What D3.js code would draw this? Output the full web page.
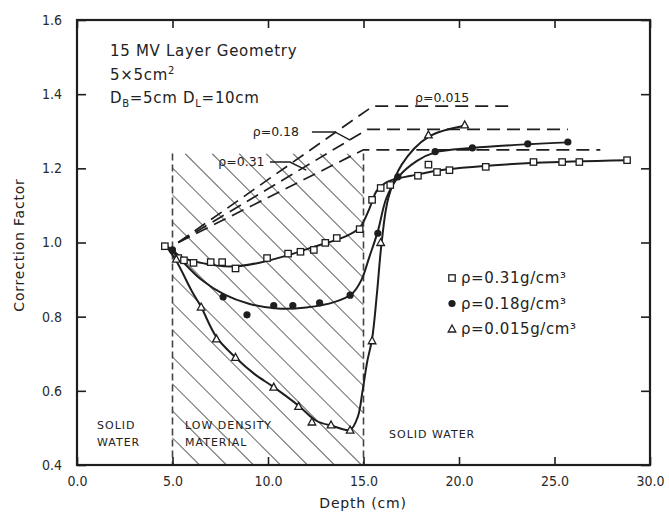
<!DOCTYPE html>
<html><head><meta charset="utf-8">
<script src="https://cdn.jsdelivr.net/npm/d3@7"></script>
<style>
body{margin:0;background:#fff;}
svg{display:block;font-family:"DejaVu Sans",sans-serif;}
</style></head>
<body><svg id="chart" width="669" height="516"></svg>
<script>
// ---------- data ----------
const xTicks = [0, 5, 10, 15, 20, 25, 30];
const yTicks = [0.4, 0.6, 0.8, 1.0, 1.2, 1.4, 1.6];
const seriesNames = ["ρ=0.31g/cm³", "ρ=0.18g/cm³", "ρ=0.015g/cm³"];

// measured points
const pts031 = [[4.6,0.99],[5.3,0.958],[5.6,0.952],[6.1,0.945],[7.0,0.947],[7.6,0.947],[8.3,0.93],[9.95,0.958],[11.05,0.97],[11.7,0.975],[12.4,0.98],[13.0,0.999],[13.6,1.012],[14.8,1.036],[15.45,1.115],[15.9,1.147],[16.4,1.155],[17.85,1.18],[18.4,1.21],[18.85,1.19],[19.5,1.195],[21.4,1.204],[23.9,1.217],[25.4,1.217],[26.3,1.217],[28.8,1.222]];
const pts018 = [[5.0,0.98],[7.65,0.853],[8.9,0.805],[10.3,0.83],[11.3,0.83],[12.7,0.837],[14.3,0.858],[15.75,1.025],[16.8,1.177],[18.75,1.245],[20.7,1.255],[23.6,1.266],[25.7,1.271]];
const pts015 = [[5.2,0.955],[6.5,0.826],[7.3,0.74],[8.3,0.69],[10.3,0.61],[11.6,0.558],[12.3,0.516],[13.3,0.508],[14.3,0.494],[15.45,0.735],[15.9,1.0],[18.4,1.29],[20.3,1.317]];

// fitted curves
const fit031 = [[4.6,0.995],[5.5,0.96],[6.5,0.945],[8,0.935],[9.5,0.945],[11,0.965],[12.5,0.99],[14,1.015],[14.8,1.04],[15.3,1.09],[15.7,1.14],[16.3,1.165],[17.5,1.18],[19,1.195],[21,1.205],[24,1.215],[28.8,1.222]];
const fit018 = [[4.6,0.995],[5.5,0.95],[6.5,0.9],[7.7,0.86],[9,0.835],[10.5,0.822],[12,0.825],[13.5,0.84],[14.4,0.862],[14.9,0.9],[15.3,0.96],[15.75,1.03],[16.2,1.12],[16.8,1.175],[17.8,1.22],[18.75,1.243],[20.7,1.255],[23.6,1.265],[25.7,1.27]];
const fit015 = [[4.6,0.995],[5.2,0.95],[6,0.87],[6.5,0.826],[7.3,0.745],[8.3,0.69],[9.3,0.645],[10.3,0.61],[11.6,0.56],[12.5,0.52],[13.4,0.505],[14.3,0.495],[14.7,0.53],[14.95,0.6],[15.2,0.68],[15.45,0.74],[15.7,0.86],[15.95,1.0],[16.3,1.12],[17,1.21],[18.4,1.285],[20.3,1.315]];

// calculated (dashed) lines
const calc015 = [[5.3,1.0],[15.5,1.368],[22.7,1.368]];
const calc018 = [[5.3,1.0],[15.2,1.305],[25.7,1.305]];
const calc031 = [[5.3,1.0],[15.0,1.25],[27.4,1.25]];

// layer boundaries (cm)
const layerEdges = [5, 15];
const layerTop = 1.24;

// ---------- drawing ----------
const svg = d3.select("#chart");
const x = d3.scaleLinear().domain([0, 30]).range([77, 650]);
const y = d3.scaleLinear().domain([0.4, 1.6]).range([465, 20]);
const ink = "#1e1e1e";

// hatch region
const defs = svg.append("defs");
defs.append("clipPath").attr("id","hclip").append("rect")
  .attr("x", x(layerEdges[0])).attr("y", y(layerTop))
  .attr("width", x(layerEdges[1]) - x(layerEdges[0]))
  .attr("height", y(0.4) - y(layerTop));
const hg = svg.append("g").attr("clip-path","url(#hclip)");
const hx0 = x(layerEdges[0]), hx1 = x(layerEdges[1]), hyt = y(layerTop), hyb = y(0.4);
for (let s = hx0 - (hyb - hyt); s < hx1 + 10; s += 27) {
  hg.append("line").attr("x1", s).attr("y1", hyt).attr("x2", s + (hyb - hyt)).attr("y2", hyb)
    .attr("stroke", "#7a7a7a").attr("stroke-width", 1.2);
}
// layer boundary dashed verticals
layerEdges.forEach(e => {
  svg.append("line").attr("x1", x(e)).attr("x2", x(e)).attr("y1", y(layerTop)).attr("y2", y(0.4))
    .attr("stroke", "#444").attr("stroke-width", 1.6).attr("stroke-dasharray", "7,4");
});

// axes
const axB = d3.axisBottom(x).tickValues(xTicks).tickSizeInner(-8).tickSizeOuter(0).tickPadding(11).tickFormat(d3.format(".1f"));
const axL = d3.axisLeft(y).tickValues(yTicks).tickSizeInner(-9).tickSizeOuter(0).tickPadding(15).tickFormat(d3.format(".1f"));
const axT = d3.axisTop(x).tickValues(xTicks).tickSizeInner(-8).tickSizeOuter(0).tickFormat("");
const axR = d3.axisRight(y).tickValues(yTicks).tickSizeInner(-9).tickSizeOuter(0).tickFormat("");
function styleAxis(g){
  g.select(".domain").remove();
  g.selectAll(".tick line").attr("stroke", ink).attr("stroke-width", 1.6);
  g.selectAll(".tick text").attr("fill", "#2a2a2a").style("font-size","14px").style("font-family","'DejaVu Sans Condensed','DejaVu Sans',sans-serif");
}
svg.append("g").attr("transform",`translate(0,${y(0.4)})`).call(axB).call(styleAxis);
svg.append("g").attr("transform",`translate(${x(0)},0)`).call(axL).call(styleAxis);
svg.append("g").attr("transform",`translate(0,${y(1.6)})`).call(axT).call(styleAxis);
svg.append("g").attr("transform",`translate(${x(30)},0)`).call(axR).call(styleAxis);
svg.append("rect").attr("x", x(0)).attr("y", y(1.6)).attr("width", x(30)-x(0)).attr("height", y(0.4)-y(1.6))
  .attr("fill","none").attr("stroke", ink).attr("stroke-width", 2.2);

// calculated dashed lines
const lin = d3.line().x(d => x(d[0])).y(d => y(d[1]));
[calc015, calc018, calc031].forEach(c => {
  svg.append("path").attr("d", lin(c)).attr("fill","none").attr("stroke", ink)
    .attr("stroke-width", 1.7).attr("stroke-dasharray", "13,7");
});

// fitted curves
const cur = d3.line().x(d => x(d[0])).y(d => y(d[1])).curve(d3.curveCatmullRom.alpha(0.5));
[fit031, fit018, fit015].forEach(c => {
  svg.append("path").attr("d", cur(c)).attr("fill","none").attr("stroke", ink).attr("stroke-width", 2);
});

// markers
function square(g, px, py){ g.append("rect").attr("x",px-3.2).attr("y",py-3.2).attr("width",6.4).attr("height",6.4).attr("fill","#fff").attr("stroke",ink).attr("stroke-width",1.3); }
function dot(g, px, py){ g.append("circle").attr("cx",px).attr("cy",py).attr("r",3.6).attr("fill",ink); }
function tri(g, px, py){ g.append("path").attr("d",`M${px},${py-4}L${px+3.8},${py+3}L${px-3.8},${py+3}Z`).attr("fill","#fff").attr("stroke",ink).attr("stroke-width",1.3); }
const mg = svg.append("g");
pts031.forEach(p => square(mg, x(p[0]), y(p[1])));
pts018.forEach(p => dot(mg, x(p[0]), y(p[1])));
pts015.forEach(p => tri(mg, x(p[0]), y(p[1])));

// legend
const markers = [square, dot, tri];
seriesNames.forEach((n, i) => {
  const ly = 278 + i * 25.5;
  markers[i](svg, 452, ly);
  svg.append("text").attr("x", 461).attr("y", ly).attr("dy","0.35em").text(n)
    .style("font-size","15px").style("letter-spacing","0.6px").attr("fill","#222");
});

// annotations for calculated lines
const ann = [
  {t:"ρ=0.015", d:17.7, v:1.39, lead:null},
  {t:"ρ=0.18", d:9.2, v:1.298, lead:[[12.3,1.298],[13.5,1.298],[14.3,1.276]]},
  {t:"ρ=0.31", d:7.4, v:1.217, lead:[[10.1,1.217],[11.15,1.217],[12.0,1.195]]}
];
ann.forEach(a => {
  svg.append("text").attr("x", x(a.d)).attr("y", y(a.v)).attr("dy","0.35em").text(a.t)
    .style("font-size","12.5px").attr("fill","#222");
  if (a.lead) svg.append("path").attr("d", lin(a.lead)).attr("fill","none").attr("stroke",ink).attr("stroke-width",1.4);
});

// header text
const hdr = svg.append("g").attr("fill","#222").style("letter-spacing","0.7px");
hdr.append("text").attr("x",110).attr("y",56).text("15 MV Layer Geometry").style("font-size","15px");
const t2 = hdr.append("text").attr("x",110).attr("y",80).style("font-size","15px");
t2.append("tspan").text("5×5cm");
t2.append("tspan").attr("dy",-6).style("font-size","10px").text("2");
const t3 = hdr.append("text").attr("x",110).attr("y",103).style("font-size","15px");
t3.append("tspan").text("D");
t3.append("tspan").attr("dy",4).style("font-size","10px").text("B");
t3.append("tspan").attr("dy",-4).text("=5cm   D");
t3.append("tspan").attr("dy",4).style("font-size","10px").text("L");
t3.append("tspan").attr("dy",-4).text("=10cm");

// region labels
const rl = svg.append("g").attr("fill","#222").style("font-size","11px").style("letter-spacing","1px");
rl.append("text").attr("x",97).attr("y",429).text("SOLID");
rl.append("text").attr("x",97).attr("y",446).text("WATER");
rl.append("text").attr("x",185).attr("y",429).text("LOW DENSITY");
rl.append("text").attr("x",185).attr("y",446).text("MATERIAL");
rl.append("text").attr("x",389).attr("y",438).text("SOLID WATER");

// axis titles
svg.append("text").attr("x", 363).attr("y", 508).attr("text-anchor","middle").text("Depth (cm)")
  .style("font-size","14px").style("letter-spacing","0.8px").attr("fill","#222");
svg.append("text").attr("transform","translate(24,245) rotate(-90)").attr("text-anchor","middle").text("Correction Factor")
  .style("font-size","14px").style("letter-spacing","0.8px").attr("fill","#222");
</script></body></html>
